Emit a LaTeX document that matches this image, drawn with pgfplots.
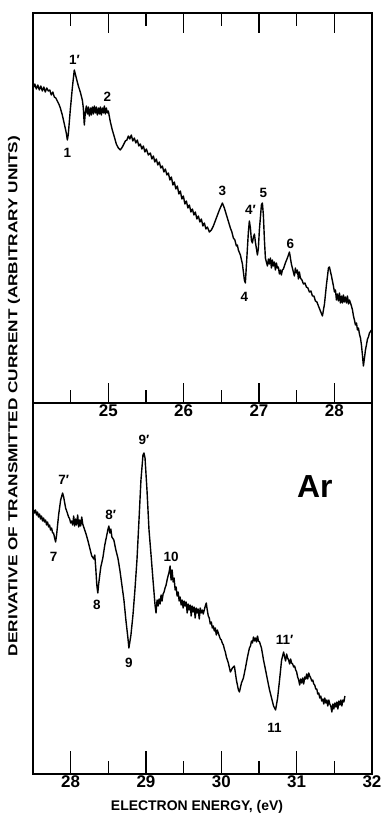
\documentclass[border=0pt]{standalone}
\usepackage{pgfplots}
\pgfplotsset{compat=1.18}
\usepackage{fontspec}
\setmainfont{Liberation Sans}
\begin{document}
\begin{tikzpicture}
\useasboundingbox (0,0) rectangle (382bp,815bp);
\tikzset{
  curve/.style={black, line width=1.4bp, line join=round},
  lab/.style={font=\fontsize{13.5}{14}\selectfont\bfseries, inner sep=0pt},
}
\pgfplotsset{
  myax/.style={
    scale only axis, width=339bp,
    y dir=reverse, ytick=\empty,
    axis line style={line width=1.6bp},
    tick style={line width=1.4bp, black},
    tick align=inside,
    xticklabel style={font=\fontsize{17}{18}\selectfont\bfseries, inner sep=1pt},
    clip=true,
  },
}
% ---------------- top panel ----------------
\begin{axis}[myax,
  at={(33bp,412bp)}, anchor=south west, height=390bp,
  xmin=24.0, xmax=28.5, ymin=13, ymax=403,
  xtick={25,26,27,28}, xticklabels={25,26,27,28},
  minor xtick={24.5,25.5,26.5,27.5},
  xtick pos=both, xticklabel pos=bottom,
  major tick length=20bp, minor tick length=13bp,
]
\addplot[curve] coordinates {
(24.004,88)(24.024,84)(24.044,89)(24.064,85)(24.084,90)(24.104,86)(24.124,91)(24.144,87)(24.163,92)(24.183,88)(24.203,91)(24.223,90)(24.243,95)(24.263,92)(24.283,97)
(24.303,98)(24.323,101)(24.343,104)(24.363,108)(24.389,115)(24.416,124)(24.442,133)(24.456,140)(24.469,134)
(24.495,110)(24.522,88)(24.548,70)(24.575,78)(24.602,86)(24.628,92)(24.655,100)(24.668,108)
(24.681,125)(24.695,112)(24.708,106)(24.721,114)(24.734,107)(24.748,116)(24.761,108)(24.774,115)(24.787,107)(24.801,114)(24.814,106)(24.827,113)
(24.840,107)(24.854,115)(24.867,108)(24.880,114)(24.894,107)(24.907,115)(24.920,108)(24.934,113)(24.947,106)(24.960,114)(24.974,108)(24.987,113)(25.000,111)
(25.027,122)(25.053,130)(25.080,137)(25.106,144)(25.133,148)(25.159,150)(25.186,147)
(25.206,144)(25.226,141)(25.246,140)(25.266,136)(25.285,139)(25.305,135)(25.325,141)(25.345,138)(25.365,143)(25.385,140)(25.405,146)(25.425,144)(25.445,149)(25.465,146)
(25.485,152)(25.505,149)(25.531,155)(25.558,153)(25.578,159)(25.598,156)(25.617,162)(25.637,159)(25.657,165)(25.677,162)(25.697,168)(25.717,166)(25.737,172)(25.757,169)
(25.777,175)(25.797,173)(25.817,180)(25.837,177)(25.857,185)(25.876,182)(25.896,189)(25.916,186)(25.936,194)(25.956,191)(25.976,199)(25.996,196)(26.016,204)(26.036,201)
(26.056,208)(26.076,205)(26.096,212)(26.116,209)(26.136,215)(26.155,212)(26.175,219)(26.195,216)(26.215,222)(26.235,219)(26.255,226)(26.275,223)(26.295,229)(26.315,227)
(26.341,232)(26.368,230)(26.394,226)(26.434,218)(26.474,210)(26.514,203)(26.540,208)
(26.580,218)(26.620,228)(26.640,232)(26.660,238)(26.680,240)(26.700,246)(26.713,245)(26.726,250)(26.753,255)(26.780,264)
(26.806,280)(26.819,283)(26.833,265)(26.859,232)(26.872,221)(26.886,228)(26.899,240)
(26.912,243)(26.926,237)(26.939,234)(26.952,242)(26.979,255)(26.992,248)(27.005,230)
(27.032,205)(27.045,203)(27.058,215)(27.072,240)(27.085,258)(27.098,262)(27.112,266)(27.125,259)(27.138,264)(27.151,258)
(27.165,268)(27.178,260)(27.191,266)(27.204,262)(27.218,270)(27.231,263)(27.244,268)(27.257,267)(27.271,274)(27.284,270)(27.297,275)(27.310,270)(27.324,269)
(27.350,263)(27.377,258)(27.404,252)(27.417,258)(27.430,264)(27.443,268)(27.456,272)(27.470,276)(27.483,268)(27.496,273)(27.510,270)
(27.523,279)(27.536,272)(27.550,278)(27.570,280)(27.590,284)(27.610,283)(27.629,287)(27.649,288)(27.669,292)(27.689,291)(27.709,296)(27.729,296)(27.749,301)
(27.769,302)(27.789,306)(27.815,311)(27.842,316)(27.869,304)(27.895,285)(27.922,268)(27.935,267)
(27.962,276)(27.988,286)(28.002,292)(28.015,290)(28.028,300)(28.041,294)(28.055,301)(28.068,293)(28.081,303)(28.095,296)(28.108,303)(28.121,295)
(28.134,302)(28.147,297)(28.161,303)(28.174,296)(28.188,304)(28.201,300)(28.227,306)(28.241,310)(28.254,316)(28.267,320)(28.280,325)(28.294,323)(28.307,330)
(28.320,328)(28.333,334)(28.347,338)(28.360,345)(28.373,355)(28.386,366)(28.400,358)(28.413,350)(28.426,345)(28.440,339)(28.453,337)(28.466,333)(28.493,330)
};
\node[lab] at (axis cs:24.456,153) {1};
\node[lab] at (axis cs:24.55,60) {1′};
\node[lab] at (axis cs:24.987,97) {2};
\node[lab] at (axis cs:26.514,191) {3};
\node[lab] at (axis cs:26.886,210) {4′};
\node[lab] at (axis cs:27.058,193) {5};
\node[lab] at (axis cs:26.806,297) {4};
\node[lab] at (axis cs:27.417,244) {6};
\end{axis}
% ---------------- bottom panel ----------------
\begin{axis}[myax,
  at={(33bp,41bp)}, anchor=south west, height=371bp,
  xmin=27.5, xmax=32, ymin=403, ymax=774,
  xtick={28,29,30,31,32}, xticklabels={28,29,30,31,32},
  minor xtick={28.5,29.5,30.5,31.5},
  xtick pos=bottom,
  major tick length=23bp, minor tick length=13bp,
]
\addplot[curve] coordinates {
(27.507,510)(27.520,513)(27.533,510)(27.547,515)(27.560,512)(27.573,517)(27.587,514)(27.600,519)(27.613,516)(27.627,521)(27.640,518)(27.653,522)(27.667,520)
(27.680,525)(27.693,522)(27.707,527)(27.720,525)(27.733,530)(27.747,528)(27.760,533)(27.773,533)(27.787,538)(27.800,542)(27.813,535)(27.840,515)
(27.867,500)(27.893,493)(27.907,497)(27.933,508)(27.947,511)(27.960,514)(27.973,517)(27.987,519)(28.000,523)(28.013,521)
(28.027,525)(28.040,516)(28.053,526)(28.067,519)(28.080,525)(28.093,515)(28.107,527)(28.120,520)(28.133,526)(28.147,517)(28.160,524)(28.173,527)(28.200,533)
(28.227,540)(28.253,548)(28.280,556)(28.307,559)(28.320,555)(28.333,568)(28.347,585)
(28.360,593)(28.373,583)(28.400,567)(28.427,558)(28.453,545)(28.480,535)(28.493,530)(28.507,526)
(28.520,533)(28.533,529)(28.547,537)(28.573,540)(28.600,550)(28.627,558)(28.653,570)(28.680,585)
(28.707,600)(28.733,620)(28.760,638)(28.773,648)(28.800,635)(28.827,615)(28.853,590)
(28.880,560)(28.907,520)(28.933,480)(28.960,455)(28.973,453)(28.987,458)(29.013,490)
(29.040,530)(29.067,555)(29.093,580)(29.120,605)(29.133,613)(29.147,600)(29.160,606)(29.173,599)
(29.187,604)(29.200,595)(29.213,601)(29.227,594)(29.240,592)(29.253,588)(29.267,585)(29.280,580)(29.293,576)(29.307,572)(29.320,566)(29.333,580)
(29.347,570)(29.360,582)(29.373,578)(29.387,590)(29.400,587)(29.413,596)(29.427,592)(29.440,601)(29.453,597)(29.467,605)(29.480,600)(29.493,608)(29.507,601)(29.520,606)
(29.533,602)(29.547,613)(29.560,604)(29.573,610)(29.587,605)(29.600,616)(29.613,606)(29.627,612)(29.640,607)(29.653,618)(29.667,608)(29.680,613)(29.693,609)(29.707,619)
(29.720,608)(29.733,613)(29.747,610)(29.760,614)(29.787,606)(29.800,603)(29.813,610)(29.827,616)(29.840,618)(29.853,624)(29.867,622)(29.880,628)
(29.893,626)(29.907,631)(29.920,628)(29.933,635)(29.947,630)(29.960,633)(29.973,636)(29.987,639)(30.000,640)(30.013,643)(30.027,645)(30.040,649)(30.053,652)(30.067,657)
(30.093,663)(30.120,672)(30.147,668)(30.173,666)(30.200,680)(30.227,690)(30.240,692)
(30.267,683)(30.293,678)(30.320,668)(30.347,657)(30.373,648)(30.387,646)(30.400,641)(30.413,643)(30.427,637)(30.440,641)
(30.453,638)(30.467,642)(30.480,636)(30.493,641)(30.507,642)(30.520,645)(30.533,648)(30.560,660)(30.587,670)(30.613,680)
(30.640,690)(30.667,698)(30.693,706)(30.720,710)(30.747,698)(30.773,680)(30.800,660)
(30.827,652)(30.840,657)(30.853,661)(30.867,654)(30.880,658)(30.893,660)(30.907,664)(30.920,659)(30.933,663)(30.947,664)(30.960,667)(30.973,666)(30.987,670)
(31.000,672)(31.013,677)(31.027,680)(31.040,685)(31.053,679)(31.067,683)(31.080,678)(31.093,684)(31.107,677)(31.120,679)(31.133,674)(31.147,679)(31.160,673)(31.173,676)
(31.187,678)(31.200,681)(31.213,680)(31.227,684)(31.240,685)(31.253,689)(31.267,689)(31.280,694)(31.293,693)(31.307,698)(31.320,696)(31.333,701)(31.347,699)(31.360,704)
(31.373,698)(31.387,703)(31.400,700)(31.413,706)(31.427,700)(31.440,704)(31.453,706)(31.467,712)(31.480,704)(31.493,709)(31.507,703)(31.520,707)(31.533,702)(31.547,709)
(31.560,701)(31.573,705)(31.587,700)(31.600,706)(31.613,700)(31.627,702)(31.640,696)
};
\node[lab] at (axis cs:27.907,480) {7′};
\node[lab] at (axis cs:27.773,557) {7};
\node[lab] at (axis cs:28.533,515) {8′};
\node[lab] at (axis cs:28.347,605) {8};
\node[lab] at (axis cs:28.973,440) {9′};
\node[lab] at (axis cs:28.773,663) {9};
\node[lab] at (axis cs:29.333,557) {10};
\node[lab] at (axis cs:30.84,640) {11′};
\node[lab] at (axis cs:30.707,728) {11};
\node[font=\fontsize{32}{34}\selectfont\bfseries, inner sep=0pt] at (axis cs:31.24,487) {Ar};
\end{axis}
\node[font=\fontsize{14}{15}\selectfont\bfseries, inner sep=0pt] at (197bp,8bp) {ELECTRON ENERGY, (eV)};
\node[rotate=90, inner sep=0pt] at (14bp,419bp) {\scalebox{1.33}[1]{\fontsize{13}{14}\selectfont\bfseries DERIVATIVE OF TRANSMITTED CURRENT (ARBITRARY UNITS)}};
\end{tikzpicture}
\end{document}
